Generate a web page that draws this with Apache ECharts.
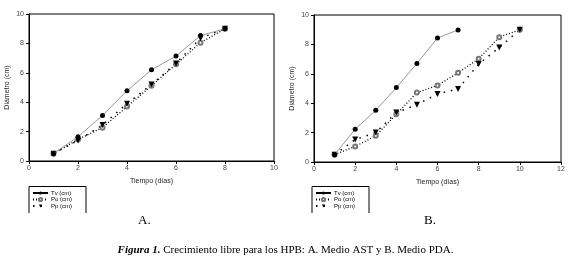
<!DOCTYPE html>
<html>
<head>
<meta charset="utf-8">
<script src="https://cdn.jsdelivr.net/npm/echarts@6/dist/echarts.min.js"></script>
<style>
  html, body {margin: 0; padding: 0; background: #fff;}
  #chart {width: 571px; height: 263px;}
</style>
</head>
<body>
<div id="chart"></div>
<script>
// datos
var diasA = [1, 2, 3, 4, 5, 6, 7, 8];
var tvA = [0.5, 1.65, 3.1, 4.78, 6.2, 7.14, 8.53, 9.0];
var poA = [0.5, 1.47, 2.27, 3.7, 5.12, 6.58, 8.05, 9.0];
var ppA = [0.5, 1.4, 2.45, 3.9, 5.2, 6.64, 8.35, 9.0];

var diasTvB = [1, 2, 3, 4, 5, 6, 7];
var tvB = [0.5, 2.23, 3.52, 5.06, 6.7, 8.44, 8.98];
var diasB = [1, 2, 3, 4, 5, 6, 7, 8, 9, 10];
var poB = [0.5, 1.06, 1.78, 3.25, 4.72, 5.21, 6.07, 7.02, 8.49, 9.0];
var ppB = [0.5, 1.53, 2.0, 3.36, 3.9, 4.63, 4.97, 6.66, 7.79, 9.0];

var nombres = ['Tv (cm)', 'Po (cm)', 'Pp (cm)'];
var xMaxA = 10, xMaxB = 12;

function pares(xs, ys) {
    return xs.map(function (x, i) { return [x, ys[i]]; });
}

var fuente = 'Liberation Sans, Arial, sans-serif';

function ejeX(idx, max) {
    return {gridIndex: idx, type: 'value', min: 0, max: max, interval: 2,
        name: 'Tiempo (días)', nameLocation: 'middle', nameGap: 17,
        nameTextStyle: {fontFamily: fuente, fontSize: 7, color: '#222'},
        axisLine: {lineStyle: {color: '#000', width: 1}},
        axisTick: {show: true, length: 3, lineStyle: {color: '#000'}},
        axisLabel: {fontFamily: fuente, fontSize: 7, color: '#444', margin: 4},
        splitLine: {show: false}};
}

function ejeY(idx) {
    return {gridIndex: idx, type: 'value', min: 0, max: 10, interval: 2,
        name: 'Diámetro (cm)', nameLocation: 'middle', nameGap: 18,
        nameTextStyle: {fontFamily: fuente, fontSize: 7, color: '#222'},
        axisLine: {lineStyle: {color: '#000', width: 1}},
        axisTick: {show: true, length: 3, lineStyle: {color: '#000'}},
        axisLabel: {fontFamily: fuente, fontSize: 7, color: '#444', margin: 5},
        splitLine: {show: false}};
}

function serieTv(idx, xs, ys) {
    return {name: nombres[0], type: 'line', xAxisIndex: idx, yAxisIndex: idx, data: pares(xs, ys),
        symbol: 'circle', symbolSize: 5, itemStyle: {color: '#000'},
        lineStyle: {color: '#999', width: 1}, z: 3};
}
function seriePo(idx, xs, ys) {
    return {name: nombres[1], type: 'line', xAxisIndex: idx, yAxisIndex: idx, data: pares(xs, ys),
        symbol: 'emptyCircle', symbolSize: 4, itemStyle: {color: '#777', borderWidth: 0.8},
        lineStyle: {color: '#000', width: 1.3, type: [1, 2]}, z: 2};
}
function seriePp(idx, xs, ys) {
    return {name: nombres[2], type: 'line', xAxisIndex: idx, yAxisIndex: idx, data: pares(xs, ys),
        symbol: 'triangle', symbolRotate: 180, symbolSize: 6, itemStyle: {color: '#000'},
        lineStyle: {color: '#000', width: 1.5, type: [1.5, 6]}, z: 2};
}

function leyenda(x) {
    return {orient: 'vertical', left: x, top: 190, itemWidth: 15, itemHeight: 4, itemGap: 0.5,
        padding: 0, selectedMode: false, data: nombres,
        lineStyle: {color: '#000'},
        textStyle: {fontFamily: fuente, fontSize: 6, lineHeight: 5, color: '#000', padding: [0, 0, 0, -2]}};
}

function caja(x) {
    return {type: 'polyline', shape: {points: [[x, 213], [x, 186.5], [x + 57, 186.5], [x + 57, 213]]},
        style: {stroke: '#000', lineWidth: 1, fill: null}};
}

var chart = echarts.init(document.getElementById('chart'));
chart.setOption({
    backgroundColor: '#fff',
    animation: false,
    grid: [
        {left: 29, top: 14, width: 245, height: 147, show: true, borderColor: '#000', borderWidth: 1, backgroundColor: 'transparent'},
        {left: 314, top: 15, width: 247, height: 147, show: true, borderColor: '#000', borderWidth: 1, backgroundColor: 'transparent'}
    ],
    xAxis: [ejeX(0, xMaxA), ejeX(1, xMaxB)],
    yAxis: [ejeY(0), ejeY(1)],
    legend: [leyenda(32), leyenda(315)],
    title: [
        {text: 'A.', left: 138, top: 214, padding: 0, textStyle: {fontFamily: 'Liberation Serif, serif', fontSize: 13, fontWeight: 'normal', color: '#000'}},
        {text: 'B.', left: 424, top: 214, padding: 0, textStyle: {fontFamily: 'Liberation Serif, serif', fontSize: 13, fontWeight: 'normal', color: '#000'}},
        {text: '{b|Figura 1.} Crecimiento libre para los HPB: A. Medio AST y B. Medio PDA.', left: 'center', top: 245, padding: 0,
            textStyle: {fontFamily: 'Liberation Serif, serif', fontSize: 11, fontWeight: 'normal', color: '#000',
                rich: {b: {fontFamily: 'Liberation Serif, serif', fontSize: 11, fontStyle: 'italic', fontWeight: 'bold', color: '#000'}}}}
    ],
    graphic: [caja(29), caja(312)],
    series: [
        serieTv(0, diasA, tvA), seriePo(0, diasA, poA), seriePp(0, diasA, ppA),
        serieTv(1, diasTvB, tvB), seriePo(1, diasB, poB), seriePp(1, diasB, ppB)
    ]
});
</script>
</body>
</html>
